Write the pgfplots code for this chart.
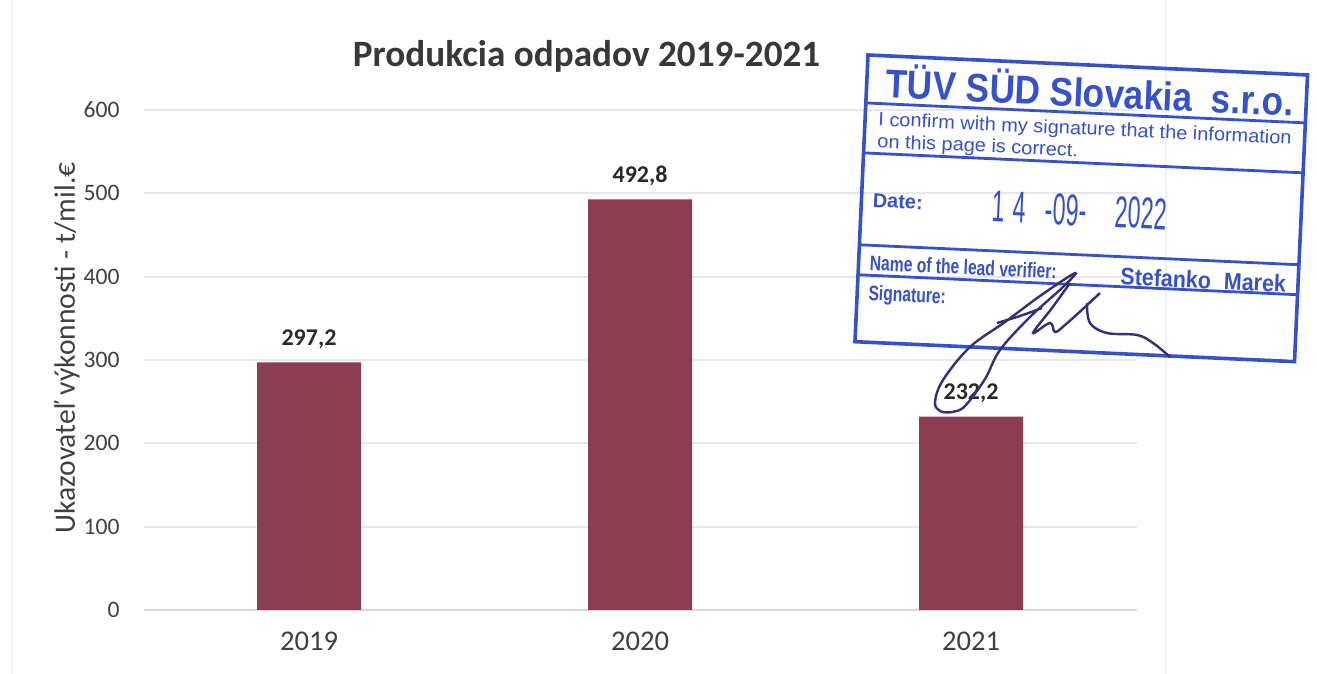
\documentclass[border=0pt]{standalone}
\usepackage{pgfplots}
\pgfplotsset{compat=1.18}
\usepackage{fontspec}
\setmainfont{Carlito}
\newfontfamily\stampfont{Liberation Sans}
\definecolor{barcol}{RGB}{139,61,81}
\definecolor{tickcol}{RGB}{64,64,64}
\definecolor{titlecol}{RGB}{56,56,56}
\definecolor{labelcol}{RGB}{40,40,40}
\definecolor{gridcol}{RGB}{232,232,232}
\definecolor{basecol}{RGB}{217,217,217}
\definecolor{stampblue}{RGB}{55,82,200}
\definecolor{sigcol}{RGB}{52,48,115}
\begin{document}
\begin{tikzpicture}[x=0.5pt,y=0.5pt]
\useasboundingbox (0,0) rectangle (1317,674);
\fill[white] (0,0) rectangle (1317,674);
\draw[gray!12, line width=1pt] (12,0) -- (12,674);
\draw[gray!12, line width=1pt] (1166,0) -- (1166,674);
\begin{axis}[
  at={(71.75pt,32pt)}, anchor=south west,
  scale only axis, width=496.5pt, height=250pt,
  xmin=-0.5, xmax=2.5, ymin=0, ymax=600,
  axis line style={draw=none},
  ytick={0,100,...,600},
  xtick={0,1,2}, xticklabels={2019,2020,2021},
  major tick length=0pt,
  ymajorgrids, grid style={gridcol, line width=0.9pt},
  /pgf/number format/assume math mode=true,
  yticklabel style={font=\fontsize{11.8}{12}\selectfont, text=tickcol, inner sep=0pt, anchor=east, xshift=-11.75pt},
  xticklabel style={font=\fontsize{14.3}{15}\selectfont, text=tickcol, inner sep=0pt, anchor=center, yshift=-15.5pt},
  ylabel={Ukazovateľ výkonnosti - t/mil.€},
  ylabel style={font=\fontsize{14.8}{15}\selectfont, text=tickcol, at={(axis description cs:-0.077,0.524)}, anchor=center},
  ybar, bar width=52pt,
  clip=false,
]
\draw[basecol, line width=0.9pt] (axis cs:-0.5,0) -- (axis cs:2.5,0);
\addplot[fill=barcol, draw=none,
  nodes near coords={\pgfmathprintnumber[fixed,fixed zerofill,precision=1,use comma]{\pgfplotspointmeta}},
  nodes near coords style={font=\bfseries\fontsize{12}{12}\selectfont, text=labelcol, anchor=center, inner sep=0pt, yshift=11.5pt}]
  coordinates {(0,297.2) (1,492.8) (2,232.2)};
\end{axis}
\node[font=\bfseries\fontsize{18.6}{20}\selectfont, text=titlecol, anchor=base] at (586.5,607) {Produkcia odpadov 2019-2021};
% stamp
\begin{scope}[shift={(868,619)}, rotate=-2.6]
\draw[stampblue, line width=1.8pt] (0,0) rectangle (440,-287);
\draw[stampblue, line width=1.4pt] (0,-48) -- (440,-48);
\draw[stampblue, line width=1.4pt] (0,-98) -- (440,-98);
\draw[stampblue, line width=1.4pt] (0,-190) -- (440,-190);
\draw[stampblue, line width=1.4pt] (0,-220) -- (440,-220);
\begin{scope}[every node/.style={transform shape, anchor=base west, inner sep=0pt, text=stampblue}]
\node at (19,-42) {\stampfont\bfseries\fontsize{20}{21}\selectfont\scalebox{0.88}[1]{TÜV SÜD Slovakia\hspace{5pt} s.r.o.}};
\node at (13,-70) {\stampfont\fontsize{9.5}{10}\selectfont\scalebox{1.05}[1]{I confirm with my signature that the information}};
\node at (13,-92) {\stampfont\fontsize{9.5}{10}\selectfont\scalebox{1.05}[1]{on this page is correct.}};
\node at (11,-152) {\stampfont\bfseries\fontsize{10}{10}\selectfont Date:};
\node at (131,-161) {\stampfont\fontsize{22.3}{22}\selectfont\scalebox{0.52}[1]{1}};
\node at (152,-161) {\stampfont\fontsize{22.3}{22}\selectfont\scalebox{0.52}[1]{4}};
\node at (184,-161) {\stampfont\fontsize{22.3}{22}\selectfont\scalebox{0.52}[1]{-09-}};
\node at (254,-161) {\stampfont\fontsize{22.3}{22}\selectfont\scalebox{0.52}[1]{2022}};
\node at (11,-215) {\stampfont\bfseries\fontsize{10.5}{10}\selectfont\scalebox{0.745}[1]{Name of the lead verifier:}};
\node at (262,-218) {\stampfont\bfseries\fontsize{11.9}{12}\selectfont\scalebox{0.9}[1]{Stefanko\hspace{4pt} Marek}};
\node at (11,-245) {\stampfont\bfseries\fontsize{10.5}{10}\selectfont\scalebox{0.745}[1]{Signature:}};
\end{scope}
\end{scope}
% signature
\draw[sigcol, line width=1.2pt] plot[smooth cycle, tension=0.6] coordinates {(1075,401) (1040,378) (1005,352) (970,327) (943,294) (935,272) (940,263) (952,262) (965,268) (985,295) (1000,324) (1030,357) (1063,387)};
\draw[sigcol, line width=1.2pt] plot[smooth, tension=0.6] coordinates {(997,351) (1020,358) (1042,366)};
\draw[sigcol, line width=1.2pt] plot[smooth, tension=0.6] coordinates {(1070,391) (1052,366) (1033,341) (1050,351) (1055,342) (1065,349) (1085,367) (1100,381)};
\draw[sigcol, line width=1.2pt] plot[smooth, tension=0.6] coordinates {(1087,371) (1090,351) (1107,341) (1137,339) (1153,331) (1170,317)};
\end{tikzpicture}
\end{document}
